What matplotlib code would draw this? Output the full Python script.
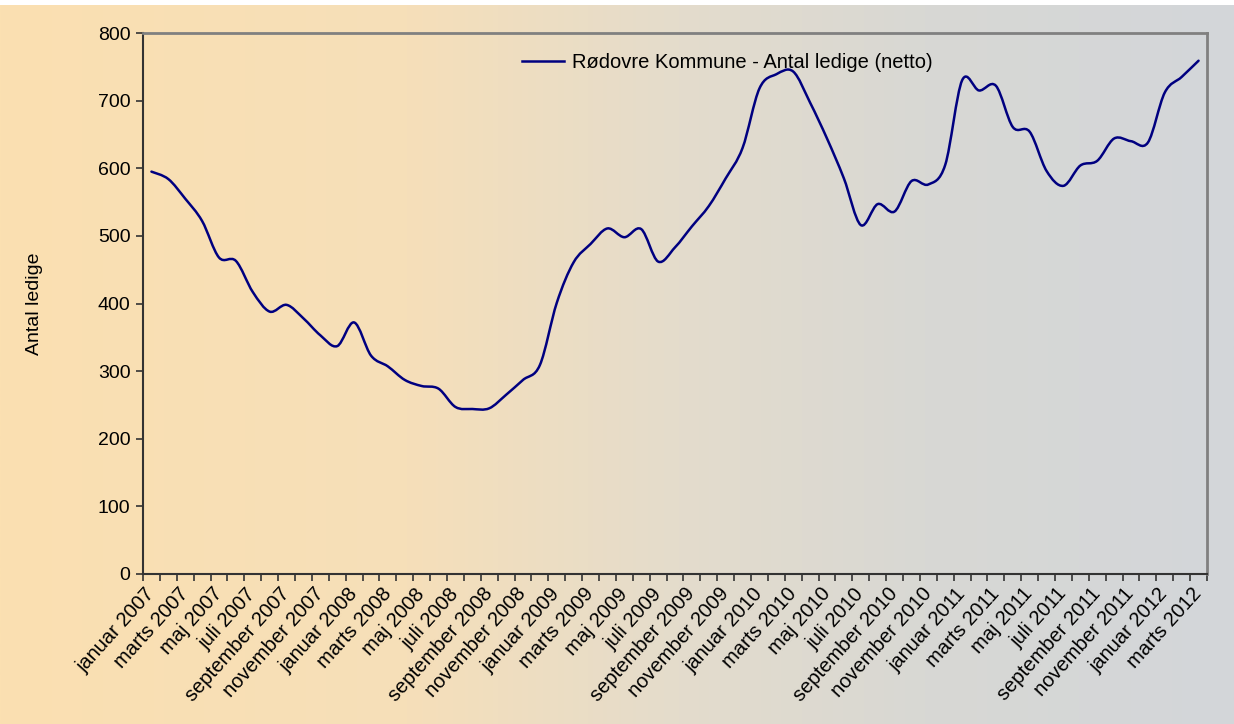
import numpy as np
import matplotlib
matplotlib.use("Agg")
import matplotlib.pyplot as plt
from matplotlib.path import Path
from matplotlib.patches import PathPatch
from matplotlib.lines import Line2D

plt.rcParams['font.family'] = ['Liberation Sans', 'DejaVu Sans']

months = ["januar", "februar", "marts", "april", "maj", "juni", "juli",
          "august", "september", "oktober", "november", "december"]
# januar 2007 .. marts 2012 (63 months)
categories = [f"{months[m]} {y}" for y in range(2007, 2013) for m in range(12)][:63]

values = [595, 584, 555, 522, 468, 463, 417, 388, 398, 378, 353, 337,
          372, 323, 307, 287, 278, 274, 247, 244, 245, 265, 287, 309,
          401, 461, 488, 511, 498, 510, 462, 483, 514, 544, 585, 630,
          718, 739, 743, 697, 644, 585, 516, 547, 536, 581, 576, 605,
          730, 715, 722, 661, 654, 596, 574, 604, 611, 644, 640, 638,
          712, 735, 759]

series_name = "Rødovre Kommune - Antal ledige (netto)"
y_label = "Antal ledige"
y_ticks = [0, 100, 200, 300, 400, 500, 600, 700, 800]

W, H = 1234, 724
fig = plt.figure(figsize=(W / 100, H / 100), dpi=100, facecolor='white')

# gradient background (white strip at top)
bg = fig.add_axes([0, 0, 1, (H - 5) / H], zorder=-10)
stops_x = [0.0, 0.33, 0.55, 0.75, 1.0]
stops_c = np.array([[251, 224, 177], [246, 223, 185], [228, 220, 204],
                    [216, 216, 212], [211, 214, 218]]) / 255.0
xs = np.linspace(0, 1, 600)
grad = np.stack([np.interp(xs, stops_x, stops_c[:, k]) for k in range(3)], axis=-1)
bg.imshow(grad[np.newaxis, :, :], aspect='auto', extent=[0, 1, 0, 1])
bg.set_axis_off()

ax = fig.add_axes([143 / W, (H - 574) / H, 1064 / W, 541 / H])
ax.set_facecolor('none')

n = len(values)
xpos = np.arange(n, dtype=float)
yv = np.array(values, dtype=float)

# smoothed line (Catmull-Rom as cubic Bezier path through the data points)
pts = np.column_stack([xpos, yv])
ext = np.vstack([pts[0], pts, pts[-1]])
verts = [tuple(pts[0])]
codes = [Path.MOVETO]
for i in range(n - 1):
    p0, p1, p2, p3 = ext[i], ext[i + 1], ext[i + 2], ext[i + 3]
    c1 = p1 + (p2 - p0) / 6.0
    c2 = p2 - (p3 - p1) / 6.0
    verts += [tuple(c1), tuple(c2), tuple(p2)]
    codes += [Path.CURVE4] * 3
line_color = '#000080'
ax.add_patch(PathPatch(Path(verts, codes), fill=False, edgecolor=line_color,
                       linewidth=1.8, capstyle='round', joinstyle='round'))

ax.set_xlim(-0.5, n - 0.5)
ax.set_ylim(0, 800)
ax.set_yticks(y_ticks)
ax.set_yticklabels([str(t) for t in y_ticks], fontsize=14)
ax.set_xticks(np.arange(-0.5, n, 1.0))
ax.set_xticklabels([])
ax.set_xticks(xpos[::2], minor=True)
ax.set_xticklabels(categories[::2], minor=True, rotation=48, ha='right',
                   va='center', rotation_mode='anchor', fontsize=14.5)
ax.tick_params(axis='x', which='minor', length=0, pad=12)
ax.tick_params(axis='x', which='major', length=5, width=1.2, color='#333333', direction='out')
ax.tick_params(axis='y', length=5, width=1.2, color='#333333', direction='out', pad=4)

for s in ['top', 'right']:
    ax.spines[s].set_color('#808080')
    ax.spines[s].set_linewidth(2)
for s in ['left', 'bottom']:
    ax.spines[s].set_color('#333333')
    ax.spines[s].set_linewidth(1.5)

ax.set_ylabel(y_label, fontsize=14, labelpad=0)
ax.yaxis.set_label_coords(-(143 - 43) / 1064, 0.5)

handle = Line2D([], [], color=line_color, linewidth=1.8)
ax.legend([handle], [series_name], loc='center left',
          bbox_to_anchor=((522 - 143) / 1064, (574 - 63) / 541),
          frameon=False, borderpad=0, borderaxespad=0, handlelength=2.1,
          handletextpad=0.4, fontsize=14.5)

fig.savefig('out.png', dpi=100, facecolor=fig.get_facecolor())
